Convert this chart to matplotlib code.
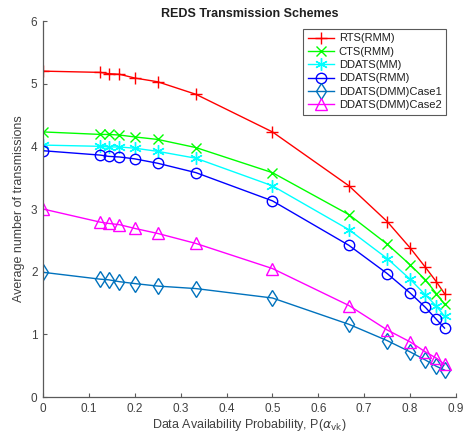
import matplotlib
matplotlib.use('Agg')
import matplotlib.pyplot as plt

plt.rcParams['font.family'] = ['Liberation Sans', 'DejaVu Sans']
plt.rcParams['mathtext.fontset'] = 'dejavusans'

# data availability probability
p = [0, 1/8, 1/7, 1/6, 1/5, 1/4, 1/3, 1/2, 2/3, 3/4, 4/5, 5/6, 6/7, 7/8]

rts_rmm = [5.20, 5.18, 5.16, 5.15, 5.09, 5.03, 4.83, 4.23, 3.37, 2.80, 2.38, 2.07, 1.84, 1.65]
cts_rmm = [4.23, 4.19, 4.19, 4.18, 4.15, 4.11, 3.98, 3.58, 2.91, 2.44, 2.11, 1.87, 1.65, 1.48]
ddats_mm = [4.02, 4.00, 3.99, 3.99, 3.97, 3.92, 3.81, 3.37, 2.67, 2.21, 1.88, 1.63, 1.45, 1.29]
ddats_rmm = [3.93, 3.86, 3.84, 3.83, 3.80, 3.73, 3.58, 3.13, 2.42, 1.97, 1.66, 1.43, 1.24, 1.10]
ddats_case1 = [1.99, 1.88, 1.87, 1.84, 1.81, 1.77, 1.73, 1.58, 1.16, 0.90, 0.72, 0.59, 0.49, 0.43]
ddats_case2 = [3.00, 2.79, 2.77, 2.75, 2.69, 2.61, 2.45, 2.05, 1.46, 1.07, 0.88, 0.72, 0.62, 0.52]

labels = ['RTS(RMM)', 'CTS(RMM)', 'DDATS(MM)', 'DDATS(RMM)',
          'DDATS(DMM)Case1', 'DDATS(DMM)Case2']

asterisk = (6, 2, 0)
styles = [
    dict(color=(1, 0, 0), marker='+', ms=9),
    dict(color=(0, 1, 0), marker='x', ms=7),
    dict(color=(0, 1, 1), marker=asterisk, ms=9),
    dict(color=(0, 0, 1), marker='o', ms=7.5),
    dict(color=(0, 0.447, 0.741), marker='d', ms=8),
    dict(color=(1, 0, 1), marker='^', ms=8),
]

fig = plt.figure(figsize=(4.68, 4.42), dpi=100)
ax = fig.add_axes([43/468, 1 - 397/442, 413/468, 376/442])

series = [rts_rmm, cts_rmm, ddats_mm, ddats_rmm, ddats_case1, ddats_case2]
for ys, lab, st in zip(series, labels, styles):
    ax.plot(p, ys, label=lab, color=st['color'], marker=st['marker'],
            markersize=st['ms'], markerfacecolor='none',
            markeredgecolor=st['color'], markeredgewidth=1.0, linewidth=1.0)

ax.set_xlim(0, 0.9)
ax.set_ylim(0, 6)
ax.set_xticks([0, 0.1, 0.2, 0.3, 0.4, 0.5, 0.6, 0.7, 0.8, 0.9])
ax.set_xticklabels(['0', '0.1', '0.2', '0.3', '0.4', '0.5', '0.6', '0.7', '0.8', '0.9'])
ax.set_yticks(range(7))

axcol = '#5a5a5a'
for side in ['top', 'right']:
    ax.spines[side].set_visible(False)
for side in ['left', 'bottom']:
    ax.spines[side].set_color(axcol)
    ax.spines[side].set_linewidth(0.9)
ax.tick_params(direction='in', length=3, width=0.8, colors=axcol,
               labelsize=8.5, labelcolor='#404040', pad=4)

ax.set_title('REDS Transmission Schemes', fontsize=9, fontweight='bold',
             color='#202020', pad=3)
ax.set_xlabel(r'Data Availability Probability, P($\alpha_{\rm vk}$)',
              fontsize=9, color='#404040', labelpad=2)
ax.set_ylabel('Average number of transmissions', fontsize=9,
              color='#404040', labelpad=4)

leg = ax.legend(loc='upper right', bbox_to_anchor=((446 - 43)/413, 1 - 8/376),
                bbox_transform=ax.transAxes, fontsize=8, frameon=True,
                fancybox=False, edgecolor='#303030', handlelength=2.4,
                handletextpad=0.4, labelspacing=0.3, borderpad=0.4,
                borderaxespad=0.0)
leg.get_frame().set_linewidth(0.8)
for t in leg.get_texts():
    t.set_color('#202020')

fig.savefig('out.png', dpi=100)
